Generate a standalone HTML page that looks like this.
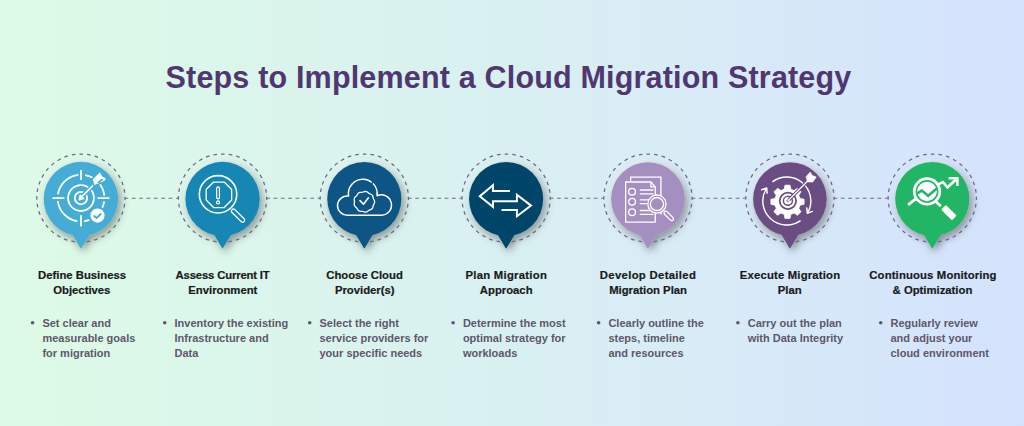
<!DOCTYPE html>
<html><head><meta charset="utf-8">
<style>
html,body{margin:0;padding:0;}
body{width:1024px;height:426px;overflow:hidden;position:relative;
 background:linear-gradient(90deg,#ddfbe6 0%,#d9f1f0 45%,#d8ebf7 70%,#d4e2fd 100%);}
svg{position:absolute;left:0;top:0;}
.t{font-family:"Liberation Sans",sans-serif;}
</style></head><body>
<svg width="1024" height="426" viewBox="0 0 1024 426">
<defs>
<filter id="sh" x="-50%" y="-50%" width="200%" height="200%">
<feDropShadow dx="2.5" dy="3.5" stdDeviation="4.2" flood-color="#000" flood-opacity="0.42"/>
</filter>
</defs>
<text class="t" x="508.5" y="88" text-anchor="middle" font-size="30.5" letter-spacing="0.18" font-weight="bold" fill="#513770">Steps to Implement a Cloud Migration Strategy</text>
<line x1="125.0" y1="198.2" x2="178.5" y2="198.2" stroke="#77698a" stroke-width="1.15" stroke-dasharray="3.8 3.55" stroke-dashoffset="-6.8"/>
<line x1="266.7" y1="198.2" x2="320.2" y2="198.2" stroke="#77698a" stroke-width="1.15" stroke-dasharray="3.8 3.55" stroke-dashoffset="-6.8"/>
<line x1="408.4" y1="198.2" x2="462.0" y2="198.2" stroke="#77698a" stroke-width="1.15" stroke-dasharray="3.8 3.55" stroke-dashoffset="-6.8"/>
<line x1="550.2" y1="198.2" x2="603.9" y2="198.2" stroke="#77698a" stroke-width="1.15" stroke-dasharray="3.8 3.55" stroke-dashoffset="-6.8"/>
<line x1="692.1" y1="198.2" x2="745.8" y2="198.2" stroke="#77698a" stroke-width="1.15" stroke-dasharray="3.8 3.55" stroke-dashoffset="-6.8"/>
<line x1="834.0" y1="198.2" x2="888.2" y2="198.2" stroke="#77698a" stroke-width="1.15" stroke-dasharray="3.8 3.55" stroke-dashoffset="-6.8"/>
<g transform="translate(80.90,198.6)"><circle r="40" fill="#ffffff" fill-opacity="0.25"/><g filter="url(#sh)"><path d="M-8.9,35 L0,50 L8.9,35 Z" fill="#44acd6"/><circle cy="0.4" r="37.2" fill="#44acd6"/></g><circle cy="-0.5" r="44.1" fill="none" stroke="#736486" stroke-width="1.25" stroke-dasharray="3.6 4.097" stroke-dashoffset="-5.897"/><path d="M-8.9,35 L0,50 L8.9,35 Z" fill="#44acd6"/><circle cx="0.1" cy="-0.5" r="23.4" fill="none" stroke="#fff" stroke-width="1.8" stroke-dasharray="29.76 7" stroke-dashoffset="-3.5"/><circle cx="0.1" cy="-0.5" r="12.9" fill="none" stroke="#fff" stroke-width="1.8"/><circle cx="0.1" cy="-0.5" r="6.2" fill="none" stroke="#fff" stroke-width="1.8"/><path d="M0.1,-28.6V-18.7M0.1,16.6V27.8M-28.5,-0.5H-16.5M16.6,-0.5H28.5" stroke="#fff" stroke-width="1.8"/><path d="M0.5,-1.5L15,-16" stroke="#44acd6" stroke-width="4.5"/><path d="M-1,0L15,-16" stroke="#fff" stroke-width="1.6"/><path d="M-2.2,1.6L-0.9,-4.2L3.6,0.2Z" fill="#fff" stroke="#fff" stroke-width="0.6" stroke-linejoin="round"/><path d="M13.5,-13.6L12,-19.4L19.1,-26.3L21.2,-22.3L25,-20.2L23.8,-17.8Z" fill="#44acd6" stroke="#44acd6" stroke-width="3" stroke-linejoin="round"/><path d="M13.5,-13.6L12,-19.4L19.1,-26.3L21.2,-22.3L25,-20.2L23.8,-17.8Z M16.6,-16.3L20.8,-19.8L22.6,-19.1L17.8,-15.2Z" fill="#fff" fill-rule="evenodd"/><circle cx="16.6" cy="17.0" r="9.3" fill="#44acd6"/><circle cx="16.6" cy="17.0" r="7.1" fill="#fff"/><path d="M13.3,17.4L15.7,19.4L19.9,15.4" fill="none" stroke="#44acd6" stroke-width="1.8" stroke-linecap="round" stroke-linejoin="round"/></g>
<g transform="translate(222.55,198.6)"><circle r="40" fill="#ffffff" fill-opacity="0.25"/><g filter="url(#sh)"><path d="M-8.9,35 L0,50 L8.9,35 Z" fill="#1587b5"/><circle cy="0.4" r="37.15" fill="#1587b5"/></g><circle cy="-0.5" r="44.1" fill="none" stroke="#736486" stroke-width="1.25" stroke-dasharray="3.6 4.097" stroke-dashoffset="-5.897"/><path d="M-8.9,35 L0,50 L8.9,35 Z" fill="#1587b5"/><circle cx="-4.5" cy="-4.3" r="18.7" fill="none" stroke="#fff" stroke-width="1.6"/><polygon points="9.10,1.48 1.63,8.95 -8.93,8.95 -16.40,1.48 -16.40,-9.08 -8.93,-16.55 1.63,-16.55 9.10,-9.08" fill="none" stroke="#fff" stroke-width="1.3" stroke-linejoin="round"/><rect x="-5.9" y="-11.7" width="2.8" height="12" rx="1.4" fill="none" stroke="#fff" stroke-width="1.2"/><circle cx="-4.5" cy="3.8" r="1.5" fill="none" stroke="#fff" stroke-width="1.2"/><g transform="translate(15.5,17) rotate(45)"><rect x="-8.5" y="-2" width="17" height="4" rx="2" fill="none" stroke="#fff" stroke-width="1.3"/></g></g>
<g transform="translate(364.30,198.6)"><circle r="40" fill="#ffffff" fill-opacity="0.25"/><g filter="url(#sh)"><path d="M-8.9,35 L0,50 L8.9,35 Z" fill="#0e5585"/><circle cy="0.4" r="37.05" fill="#0e5585"/></g><circle cy="-0.5" r="44.1" fill="none" stroke="#736486" stroke-width="1.25" stroke-dasharray="3.6 4.097" stroke-dashoffset="-5.897"/><path d="M-8.9,35 L0,50 L8.9,35 Z" fill="#0e5585"/><path d="M-17.2,16.6 H17 A10.2,10.2 0 1 0 12.74,-2.87 A14.4,14.4 0 1 0 -15.68,-2.48 A9.6,9.6 0 1 0 -17.2,16.6 Z" fill="none" stroke="#fff" stroke-width="1.5" stroke-linejoin="round"/><rect x="-2.5" y="-0.8" width="5" height="1.6" fill="#0e5585" transform="translate(8.3,-16.0) rotate(-49)"/><path d="M10.35,3.20 L10.21,4.10 L9.85,4.95 L9.42,5.75 L9.06,6.53 L8.83,7.36 L8.65,8.25 L8.38,9.14 L7.91,9.92 L7.22,10.52 L6.39,10.94 L5.55,11.27 L4.78,11.64 L4.06,12.13 L3.35,12.69 L2.58,13.19 L1.71,13.49 L0.80,13.51 L-0.10,13.30 L-0.96,13.02 L-1.79,12.80 L-2.65,12.72 L-3.55,12.69 L-4.47,12.58 L-5.32,12.25 L-6.04,11.68 L-6.59,10.94 L-7.07,10.17 L-7.57,9.47 L-8.17,8.85 L-8.85,8.25 L-9.48,7.57 L-9.92,6.77 L-10.09,5.88 L-10.05,4.95 L-9.92,4.06 L-9.85,3.20 L-9.92,2.34 L-10.05,1.45 L-10.09,0.52 L-9.92,-0.37 L-9.48,-1.17 L-8.85,-1.85 L-8.17,-2.45 L-7.57,-3.07 L-7.07,-3.77 L-6.59,-4.54 L-6.04,-5.28 L-5.33,-5.85 L-4.47,-6.18 L-3.55,-6.29 L-2.65,-6.32 L-1.79,-6.40 L-0.96,-6.62 L-0.10,-6.90 L0.80,-7.11 L1.71,-7.09 L2.58,-6.79 L3.35,-6.29 L4.06,-5.73 L4.77,-5.24 L5.55,-4.87 L6.39,-4.54 L7.22,-4.12 L7.91,-3.52 L8.38,-2.74 L8.65,-1.85 L8.83,-0.96 L9.06,-0.13 L9.42,0.65 L9.85,1.45 L10.21,2.30 L10.35,3.20Z" fill="#0e5585" stroke="#fff" stroke-width="1.3"/><path d="M-4.3,2L-0.8,5.6L4.1,-0.8" fill="none" stroke="#fff" stroke-width="1.6" stroke-linecap="round" stroke-linejoin="round"/></g>
<g transform="translate(506.10,198.6)"><circle r="40" fill="#ffffff" fill-opacity="0.25"/><g filter="url(#sh)"><path d="M-8.9,35 L0,50 L8.9,35 Z" fill="#03446a"/><circle cy="0.4" r="37.05" fill="#03446a"/></g><circle cy="-0.5" r="44.1" fill="none" stroke="#736486" stroke-width="1.25" stroke-dasharray="3.6 4.097" stroke-dashoffset="-5.897"/><path d="M-8.9,35 L0,50 L8.9,35 Z" fill="#03446a"/><path d="M3.8,-7.5 L-13.1,-7.5 L-13.1,-13.4 L-26.3,-2.4 L-13.1,8.3 L-13.1,2.7 L10.8,2.7 L10.8,-3.8 L24.9,7.0 L10.8,17.6 L10.8,11.5 L-4.6,11.5" fill="none" stroke="#fff" stroke-width="2" stroke-linejoin="miter"/></g>
<g transform="translate(647.95,198.6)"><circle r="40" fill="#ffffff" fill-opacity="0.25"/><g filter="url(#sh)"><path d="M-8.9,35 L0,50 L8.9,35 Z" fill="#a58ec0"/><circle cy="0.4" r="36.8" fill="#a58ec0"/></g><circle cy="-0.5" r="44.1" fill="none" stroke="#736486" stroke-width="1.25" stroke-dasharray="3.6 4.097" stroke-dashoffset="-5.897"/><path d="M-8.9,35 L0,50 L8.9,35 Z" fill="#a58ec0"/><path d="M-17.3,-16.5 V-21.5 H13 V16" fill="none" stroke="#fff" stroke-width="1.3"/><path d="M-22.3,-16.6 H3 L7.3,-11.7 V23.5 H-22.3 Z" fill="#a58ec0" stroke="#fff" stroke-width="1.3" stroke-linejoin="round"/><path d="M3,-16.6 V-11.7 H7.3" fill="none" stroke="#fff" stroke-width="1.3"/><circle cx="-15.9" cy="-6.8" r="3.4" fill="none" stroke="#fff" stroke-width="1.3"/><path d="M-8.2,-8.6H5.5M-8.2,-4.8H5.5" stroke="#fff" stroke-width="1.3"/><circle cx="-15.9" cy="3.1" r="3.4" fill="none" stroke="#fff" stroke-width="1.3"/><path d="M-8.2,1.3H5.5M-8.2,5.1H5.5" stroke="#fff" stroke-width="1.3"/><circle cx="-15.9" cy="13.7" r="3.4" fill="none" stroke="#fff" stroke-width="1.3"/><path d="M-8.2,11.899999999999999H5.5M-8.2,15.7H5.5" stroke="#fff" stroke-width="1.3"/><circle cx="9.0" cy="5.5" r="9.1" fill="#a58ec0" stroke="#fff" stroke-width="1.3"/><circle cx="9.0" cy="5.5" r="6.6" fill="none" stroke="#fff" stroke-width="1.3"/><g transform="translate(20.8,17.3) rotate(45)"><rect x="-6" y="-1.8" width="12" height="3.6" rx="1.8" fill="#a58ec0" stroke="#fff" stroke-width="1.3"/></g></g>
<g transform="translate(789.90,198.6)"><circle r="40" fill="#ffffff" fill-opacity="0.25"/><g filter="url(#sh)"><path d="M-8.9,35 L0,50 L8.9,35 Z" fill="#6a4e82"/><circle cy="0.4" r="36.8" fill="#6a4e82"/></g><circle cy="-0.5" r="44.1" fill="none" stroke="#736486" stroke-width="1.25" stroke-dasharray="3.6 4.097" stroke-dashoffset="-5.897"/><path d="M-8.9,35 L0,50 L8.9,35 Z" fill="#6a4e82"/><path d="M-17.54,-16.77 A24,24 0 0 1 18.09,13.67" fill="none" stroke="#fff" stroke-width="1.4"/><path d="M10.67,22.06 A24,24 0 0 1 -23.88,-9.60" fill="none" stroke="#fff" stroke-width="1.4"/><path d="M16.89,9.51 L17.47,14.76 L22.38,12.81" fill="none" stroke="#fff" stroke-width="1.5" stroke-linecap="round" stroke-linejoin="round"/><path d="M-22.83,-5.41 L-23.23,-10.67 L-28.20,-8.89" fill="none" stroke="#fff" stroke-width="1.5" stroke-linecap="round" stroke-linejoin="round"/><polygon points="10.16,-0.14 14.21,0.69 14.21,5.71 10.16,6.54 8.85,9.72 11.12,13.17 7.57,16.72 4.12,14.45 0.94,15.76 0.11,19.81 -4.91,19.81 -5.74,15.76 -8.92,14.45 -12.37,16.72 -15.92,13.17 -13.65,9.72 -14.96,6.54 -19.01,5.71 -19.01,0.69 -14.96,-0.14 -13.65,-3.32 -15.92,-6.77 -12.37,-10.32 -8.92,-8.05 -5.74,-9.36 -4.91,-13.41 0.11,-13.41 0.94,-9.36 4.12,-8.05 7.57,-10.32 11.12,-6.77 8.85,-3.32" fill="#fff" stroke="#fff" stroke-width="0.8" stroke-linejoin="round"/><circle cx="-2.0" cy="2.26" r="8.2" fill="none" stroke="#6a4e82" stroke-width="1.8"/><circle cx="-2.0" cy="2.26" r="4.5" fill="none" stroke="#6a4e82" stroke-width="1.5"/><circle cx="-2.0" cy="2.26" r="1.4" fill="#6a4e82"/><path d="M-1,1.3L18,-17.8" stroke="#6a4e82" stroke-width="3.4"/><path d="M-2.5,2.8L18.5,-18.3" stroke="#fff" stroke-width="1.3"/><path d="M16.1,-21.9L20.3,-26.6L22.2,-23.3L26.4,-21.5L22.9,-16.5L17.5,-16.6Z" fill="#fff" stroke="#fff" stroke-width="0.5" stroke-linejoin="round"/></g>
<g transform="translate(932.30,198.6)"><circle r="40" fill="#ffffff" fill-opacity="0.25"/><g filter="url(#sh)"><path d="M-8.9,35 L0,50 L8.9,35 Z" fill="#22b565"/><circle cy="0.4" r="37.1" fill="#22b565"/></g><circle cy="-0.5" r="44.1" fill="none" stroke="#736486" stroke-width="1.25" stroke-dasharray="3.6 4.097" stroke-dashoffset="-5.897"/><path d="M-8.9,35 L0,50 L8.9,35 Z" fill="#22b565"/><defs><clipPath id="lens"><circle cx="-5.27" cy="-7.16" r="10.2"/></clipPath></defs><circle cx="-5.27" cy="-7.16" r="14.1" fill="#fff"/><circle cx="-5.27" cy="-7.16" r="10.6" fill="none" stroke="#22b565" stroke-width="1.6"/><g clip-path="url(#lens)"><path d="M-16,-4.7 L-10.55,-8.04 L-4.1,-2.75 L2.95,-8.9 L6,-11" fill="none" stroke="#22b565" stroke-width="2.6" stroke-linejoin="miter"/></g><path d="M-24.2,6.3 L-16.5,0.2" stroke="#fff" stroke-width="2.8"/><path d="M6.5,-14.5 L10.6,-16.6 L15.2,-11.3 L23.5,-18.8" fill="none" stroke="#fff" stroke-width="2.6" stroke-linejoin="miter"/><path d="M16.3,-20.4 L25.1,-20.4 L25.1,-12.6" fill="none" stroke="#fff" stroke-width="2.5"/><path d="M3.5,2.8 L8.5,7.7" stroke="#fff" stroke-width="2.8"/><g transform="translate(16.6,14.1) rotate(45)"><rect x="-7.6" y="-3.35" width="15.2" height="6.7" rx="1.2" fill="#fff"/></g></g>
<text class="t" x="82.05" y="279.2" text-anchor="middle" font-size="11.3" letter-spacing="0" font-weight="bold" fill="#1a1a1a" stroke="#1a1a1a" stroke-width="0.2">Define Business</text><text class="t" x="81.85" y="293.7" text-anchor="middle" font-size="11.3" font-weight="bold" fill="#1a1a1a" stroke="#1a1a1a" stroke-width="0.2">Objectives</text>
<text class="t" x="222.57" y="279.2" text-anchor="middle" font-size="11.3" letter-spacing="-0.156" font-weight="bold" fill="#1a1a1a" stroke="#1a1a1a" stroke-width="0.2">Assess Current IT</text><text class="t" x="222.85" y="293.7" text-anchor="middle" font-size="11.3" font-weight="bold" fill="#1a1a1a" stroke="#1a1a1a" stroke-width="0.2">Environment</text>
<text class="t" x="364.55" y="279.2" text-anchor="middle" font-size="11.3" letter-spacing="0" font-weight="bold" fill="#1a1a1a" stroke="#1a1a1a" stroke-width="0.2">Choose Cloud</text><text class="t" x="364.75" y="293.7" text-anchor="middle" font-size="11.3" font-weight="bold" fill="#1a1a1a" stroke="#1a1a1a" stroke-width="0.2">Provider(s)</text>
<text class="t" x="506.28" y="279.2" text-anchor="middle" font-size="11.3" letter-spacing="0.27" font-weight="bold" fill="#1a1a1a" stroke="#1a1a1a" stroke-width="0.2">Plan Migration</text><text class="t" x="506.20" y="293.7" text-anchor="middle" font-size="11.3" font-weight="bold" fill="#1a1a1a" stroke="#1a1a1a" stroke-width="0.2">Approach</text>
<text class="t" x="648.01" y="279.2" text-anchor="middle" font-size="11.3" letter-spacing="0.33" font-weight="bold" fill="#1a1a1a" stroke="#1a1a1a" stroke-width="0.2">Develop Detailed</text><text class="t" x="648.05" y="293.7" text-anchor="middle" font-size="11.3" font-weight="bold" fill="#1a1a1a" stroke="#1a1a1a" stroke-width="0.2">Migration Plan</text>
<text class="t" x="790.00" y="279.2" text-anchor="middle" font-size="11.3" letter-spacing="0.19" font-weight="bold" fill="#1a1a1a" stroke="#1a1a1a" stroke-width="0.2">Execute Migration</text><text class="t" x="789.75" y="293.7" text-anchor="middle" font-size="11.3" font-weight="bold" fill="#1a1a1a" stroke="#1a1a1a" stroke-width="0.2">Plan</text>
<text class="t" x="932.98" y="279.2" text-anchor="middle" font-size="11.3" letter-spacing="0.15" font-weight="bold" fill="#1a1a1a" stroke="#1a1a1a" stroke-width="0.2">Continuous Monitoring</text><text class="t" x="932.45" y="293.7" text-anchor="middle" font-size="11.3" font-weight="bold" fill="#1a1a1a" stroke="#1a1a1a" stroke-width="0.2">&amp; Optimization</text>
<circle cx="32.6" cy="322.8" r="1.8" fill="#5e576a"/><text class="t" x="42.4" y="326.8" font-size="11" font-weight="bold" fill="#5e576a">Set clear and</text><text class="t" x="42.4" y="341.9" font-size="11" font-weight="bold" fill="#5e576a">measurable goals</text><text class="t" x="42.4" y="357.1" font-size="11" font-weight="bold" fill="#5e576a">for migration</text>
<circle cx="164.7" cy="322.8" r="1.8" fill="#5e576a"/><text class="t" x="174.5" y="326.8" font-size="11" font-weight="bold" fill="#5e576a">Inventory the existing</text><text class="t" x="174.5" y="341.9" font-size="11" font-weight="bold" fill="#5e576a">Infrastructure and</text><text class="t" x="174.5" y="357.1" font-size="11" font-weight="bold" fill="#5e576a">Data</text>
<circle cx="309.7" cy="322.8" r="1.8" fill="#5e576a"/><text class="t" x="319.5" y="326.8" font-size="11" font-weight="bold" fill="#5e576a">Select the right</text><text class="t" x="319.5" y="341.9" font-size="11" font-weight="bold" fill="#5e576a">service providers for</text><text class="t" x="319.5" y="357.1" font-size="11" font-weight="bold" fill="#5e576a">your specific needs</text>
<circle cx="453.1" cy="322.8" r="1.8" fill="#5e576a"/><text class="t" x="462.9" y="326.8" font-size="11" font-weight="bold" fill="#5e576a">Determine the most</text><text class="t" x="462.9" y="341.9" font-size="11" font-weight="bold" fill="#5e576a">optimal strategy for</text><text class="t" x="462.9" y="357.1" font-size="11" font-weight="bold" fill="#5e576a">workloads</text>
<circle cx="598.6" cy="322.8" r="1.8" fill="#5e576a"/><text class="t" x="608.4" y="326.8" font-size="11" font-weight="bold" fill="#5e576a">Clearly outline the</text><text class="t" x="608.4" y="341.9" font-size="11" font-weight="bold" fill="#5e576a">steps, timeline</text><text class="t" x="608.4" y="357.1" font-size="11" font-weight="bold" fill="#5e576a">and resources</text>
<circle cx="737.9" cy="322.8" r="1.8" fill="#5e576a"/><text class="t" x="747.7" y="326.8" font-size="11" font-weight="bold" fill="#5e576a">Carry out the plan</text><text class="t" x="747.7" y="341.9" font-size="11" font-weight="bold" fill="#5e576a">with Data Integrity</text>
<circle cx="880.7" cy="322.8" r="1.8" fill="#5e576a"/><text class="t" x="890.5" y="326.8" font-size="11" font-weight="bold" fill="#5e576a">Regularly review</text><text class="t" x="890.5" y="341.9" font-size="11" font-weight="bold" fill="#5e576a">and adjust your</text><text class="t" x="890.5" y="357.1" font-size="11" font-weight="bold" fill="#5e576a">cloud environment</text>
</svg>
</body></html>
